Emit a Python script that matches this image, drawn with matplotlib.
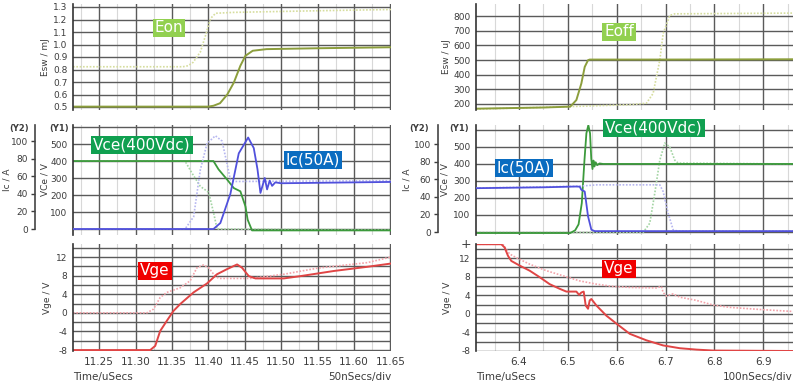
import matplotlib.pyplot as plt
from matplotlib.ticker import MultipleLocator, FormatStrFormatter

# ---------------- turn-on (left column), time in uSecs ----------------
t_eon = [11.214, 11.40, 11.407, 11.416, 11.426, 11.435, 11.444, 11.451, 11.461, 11.48, 11.55, 11.651]
eon = [0.503, 0.503, 0.51, 0.53, 0.60, 0.695, 0.83, 0.91, 0.95, 0.963, 0.97, 0.978]
t_eon_ref = [11.214, 11.365, 11.372, 11.379, 11.389, 11.396, 11.403, 11.41, 11.435, 11.55, 11.651]
eon_ref = [0.822, 0.822, 0.83, 0.857, 0.94, 1.07, 1.208, 1.25, 1.257, 1.27, 1.28]

t_vce_on = [11.214, 11.407, 11.414, 11.426, 11.435, 11.444, 11.451, 11.454, 11.46, 11.651]
vce_on = [400, 400, 351, 290, 241, 222, 133, 55, -8, -8]
t_vce_on_ref = [11.214, 11.368, 11.3775, 11.389, 11.4004, 11.4073, 11.412, 11.651]
vce_on_ref = [400, 400, 329, 251, 216, 94, 0, -5]

t_ic_on = [11.214, 11.407, 11.4165, 11.4303, 11.4418, 11.4547, 11.4624, 11.4675, 11.4716,
           11.4775, 11.4807, 11.4843, 11.4876, 11.492, 11.50, 11.651]
ic_on = [0, 0, 6.8, 40, 86, 104, 92, 68, 41, 58, 45, 55, 49, 53, 52, 53.5]
t_ic_on_ref = [11.214, 11.368, 11.3798, 11.3889, 11.3981, 11.4096, 11.4188, 11.4257, 11.4303, 11.4348, 11.651]
ic_on_ref = [0, 0, 14, 67, 97, 106, 100, 74, 56, 54, 55]

t_vge_on = [11.214, 11.3201, 11.327, 11.3338, 11.343, 11.352, 11.3614, 11.3797, 11.398, 11.4119,
            11.4257, 11.4395, 11.4463, 11.4555, 11.4647, 11.5037, 11.5267, 11.5725, 11.6186, 11.651]
vge_on = [-8, -8, -7.1, -3.9, -1.7, 0.4, 1.9, 4.4, 6.3, 8.3, 9.4, 10.4, 9.7, 7.9, 7.4, 7.4, 7.9, 9.0, 9.9, 10.6]
t_vge_on_ref = [11.214, 11.3155, 11.3246, 11.3338, 11.343, 11.3614, 11.3751, 11.3843, 11.3935, 11.4004,
                11.4073, 11.4141, 11.4578, 11.5037, 11.5496, 11.6186, 11.651]
vge_on_ref = [0, 0, 0.8, 3.3, 4.4, 5.4, 6.9, 9.7, 10.3, 9.7, 8.3, 7.4, 7.4, 8.3, 9.6, 10.8, 12]

# ---------------- turn-off (right column) ----------------
t_eoff = [6.312, 6.45, 6.505, 6.5175, 6.5277, 6.5346, 6.5414, 6.5448, 6.70, 6.963]
eoff = [168, 176, 182, 227, 340, 453, 499, 503, 503, 505]
t_eoff_ref = [6.312, 6.50, 6.6268, 6.6609, 6.6746, 6.6883, 6.6951, 6.7087, 6.719, 6.963]
eoff_ref = [165, 182, 195, 205, 272, 499, 680, 804, 815, 820]

t_ic_off = [6.312, 6.45, 6.5175, 6.5243, 6.5277, 6.5346, 6.5414, 6.5482, 6.555, 6.963]
ic_off = [49.8, 50.8, 51.7, 51.5, 48, 46, 17.7, 2.6, 1, 1]
t_ic_off_ref = [6.312, 6.52, 6.56, 6.6883, 6.6951, 6.7053, 6.7156, 6.725, 6.963]
ic_off_ref = [50, 52, 53.6, 53.6, 46, 21.5, 2.6, 1, 1]

t_vce_off = [6.312, 6.505, 6.515, 6.522, 6.5286, 6.534, 6.538, 6.542, 6.5455, 6.548, 6.5505,
             6.5525, 6.5545, 6.557, 6.56, 6.565, 6.572, 6.963]
vce_off = [-6, -6, 10, 45, 170, 420, 580, 628, 580, 430, 370, 420, 385, 410, 393, 403, 400, 400]
t_vce_off_ref = [6.312, 6.6541, 6.6678, 6.678, 6.6883, 6.6985, 6.7087, 6.719, 6.7258, 6.963]
vce_off_ref = [-3, -3, 52, 228, 422, 523, 500, 422, 405, 400]

t_vge_off = [6.312, 6.3638, 6.3706, 6.3775, 6.3843, 6.4014, 6.4219, 6.4424, 6.4628, 6.4833, 6.497,
             6.5175, 6.523, 6.5277, 6.5325, 6.5366, 6.5414, 6.5448, 6.5482, 6.5585, 6.579, 6.5995,
             6.6268, 6.6609, 6.6951, 6.7292, 6.7634, 6.7975, 6.963]
vge_off = [15, 15, 14.3, 12.5, 11.4, 10.4, 9.3, 7.9, 6.4, 5.4, 4.8, 4.8, 4.1, 4.6, 4.8, 1.8, 1.1,
           2.9, 3.2, 1.8, -0.4, -2.1, -4.3, -5.7, -6.8, -7.4, -7.7, -7.9, -8.0]
t_vge_off_ref = [6.312, 6.3672, 6.374, 6.3809, 6.3945, 6.4219, 6.456, 6.4902, 6.5243, 6.5585, 6.5926,
                 6.6268, 6.6814, 6.6917, 6.6951, 6.7019, 6.7087, 6.7156, 6.7292, 6.7634, 6.7975,
                 6.8317, 6.9, 6.963]
vge_off_ref = [15, 15, 13.9, 12.9, 12.1, 10.7, 9.3, 8.2, 7.1, 6.4, 5.9, 5.7, 5.6, 5.9, 4.6, 3.8,
               4.1, 4.3, 3.6, 2.9, 1.9, 1.4, 0.9, 0.5]

W, H = 796, 386
fig = plt.figure(figsize=(W / 100, H / 100), dpi=100)
fig.patch.set_facecolor('white')

TXT = '#3c3c3c'
DOT = (0, (1, 1))


def px(x0, y0, x1, y1):
    return [x0 / W, 1 - y1 / H, (x1 - x0) / W, (y1 - y0) / H]


def style(ax, xmaj, fmt, show_x):
    for s in ['top', 'right', 'bottom']:
        ax.spines[s].set_visible(False)
    ax.spines['left'].set_color('#333333')
    ax.spines['left'].set_linewidth(1.2)
    ax.xaxis.set_major_locator(MultipleLocator(xmaj))
    ax.xaxis.set_minor_locator(MultipleLocator(xmaj / 2))
    ax.xaxis.set_major_formatter(FormatStrFormatter(fmt))
    ax.grid(which='major', color='#5a5a5a', lw=1.0)
    ax.grid(which='minor', axis='x', color='#d8d8d8', lw=0.8)
    ax.set_axisbelow(True)
    ax.tick_params(which='both', length=0, labelsize=6.5, colors=TXT)
    ax.tick_params(axis='y', pad=4)
    ax.tick_params(axis='x', pad=4, labelsize=7.5, labelbottom=show_x)


def label(x, y, s, color):
    fig.text(x / W, 1 - y / H, s, color='white', fontsize=11, ha='center', va='center',
             bbox=dict(boxstyle='square,pad=0.12', fc=color, ec='none'))


def ftext(x, y, s, **kw):
    kw.setdefault('fontsize', 6.5)
    kw.setdefault('color', TXT)
    fig.text(x / W, 1 - y / H, s, **kw)


cols = [
    dict(x0=73, x1=391, xlim=(11.214, 11.651), xmaj=0.05, fmt='%.2f',
         e_ylim=(0.476, 1.324), e_ticks=[0.5, 0.6, 0.7, 0.8, 0.9, 1.0, 1.1, 1.2, 1.3], e_fmt='%.1f',
         v_ylim=(-35, 612), i_ylim=(-6.8, 118.2), g_ylim=(-8.2, 14.8),
         te=t_eon, e=eon, te_r=t_eon_ref, e_r=eon_ref,
         tv=t_vce_on, v=vce_on, tv_r=t_vce_on_ref, v_r=vce_on_ref,
         ti=t_ic_on, i=ic_on, ti_r=t_ic_on_ref, i_r=ic_on_ref,
         tg=t_vge_on, g=vge_on, tg_r=t_vge_on_ref, g_r=vge_on_ref,
         elabel='Esw / mJ', div='50nSecs/div', shift=0),
    dict(x0=476, x1=793, xlim=(6.312, 6.961), xmaj=0.1, fmt='%.1f',
         e_ylim=(159, 882), e_ticks=[200, 300, 400, 500, 600, 700, 800], e_fmt='%d',
         v_ylim=(-17.6, 629), i_ylim=(-3.4, 121.6), g_ylim=(-8.0, 15.05),
         te=t_eoff, e=eoff, te_r=t_eoff_ref, e_r=eoff_ref,
         tv=t_vce_off, v=vce_off, tv_r=t_vce_off_ref, v_r=vce_off_ref,
         ti=t_ic_off, i=ic_off, ti_r=t_ic_off_ref, i_r=ic_off_ref,
         tg=t_vge_off, g=vge_off, tg_r=t_vge_off_ref, g_r=vge_off_ref,
         elabel='Esw / uJ', div='100nSecs/div', shift=-3),
]

for c in cols:
    x0, x1 = c['x0'], c['x1']

    # energy panel
    ax = fig.add_axes(px(x0, 4, x1, 110))
    style(ax, c['xmaj'], c['fmt'], False)
    ax.plot(c['te_r'], c['e_r'], color='#d6dd9e', lw=1.2, ls=DOT)
    ax.plot(c['te'], c['e'], color='#8c9e3c', lw=1.4)
    ax.set_xlim(*c['xlim'])
    ax.set_ylim(*c['e_ylim'])
    ax.set_yticks(c['e_ticks'])
    ax.yaxis.set_major_formatter(FormatStrFormatter(c['e_fmt']))

    # Vce / Ic panel
    ax = fig.add_axes(px(x0, 125, x1, 235))
    style(ax, c['xmaj'], c['fmt'], False)
    ax.plot(c['tv_r'], c['v_r'], color='#a3d4a3', lw=1.2, ls=DOT)
    ax.plot(c['tv'], c['v'], color='#3c9a3c', lw=1.3)
    ax.set_xlim(*c['xlim'])
    ax.set_ylim(*c['v_ylim'])
    ax.set_yticks(range(0, 700, 100), ['', '100', '200', '300', '400', '500', ''])
    ax2 = ax.twinx()
    ax2.set_ylim(*c['i_ylim'])
    ax2.plot(c['ti_r'], c['i_r'], color='#b6b6f0', lw=1.2, ls=DOT)
    ax2.plot(c['ti'], c['i'], color='#5050dc', lw=1.3)
    for s in ['top', 'right', 'bottom']:
        ax2.spines[s].set_visible(False)
    ax2.spines['left'].set_visible(True)
    ax2.spines['left'].set_position(('outward', 27.4))
    ax2.spines['left'].set_color('#444444')
    ax2.spines['left'].set_linewidth(1.2)
    ax2.spines['left'].set_bounds(0, c['i_ylim'][1])
    ax2.yaxis.set_ticks_position('left')
    ax2.set_yticks(range(0, 120, 20))
    ax2.tick_params(axis='y', length=3, width=1, colors=TXT, labelsize=6.5, pad=2)

    # Vge panel
    ax = fig.add_axes(px(x0, 244, x1, 351))
    style(ax, c['xmaj'], c['fmt'], True)
    ax.plot(c['tg_r'], c['g_r'], color='#f3a3aa', lw=1.2, ls=DOT)
    ax.plot(c['tg'], c['g'], color='#e04545', lw=1.4)
    ax.set_xlim(*c['xlim'])
    ax.set_ylim(*c['g_ylim'])
    ax.set_yticks(range(-8, 15, 2), [str(v) if v % 4 == 0 else '' for v in range(-8, 15, 2)])

    # axis titles
    off = x0 - 73 + c['shift']
    ftext(46 + off, 57, c['elabel'], rotation=90, ha='center', va='center')
    ftext(7 + off, 180, 'Ic / A', rotation=90, ha='center', va='center')
    ftext(45 + off, 180, 'VCe / V', rotation=90, ha='center', va='center')
    ftext(48 + off, 298, 'Vge / V', rotation=90, ha='center', va='center')
    ftext(19 + off, 128, '(Y2)', ha='center', va='center', fontweight='bold', fontsize=6)
    ftext(59 + off, 128, '(Y1)', ha='center', va='center', fontweight='bold', fontsize=6)
    ftext(x0, 377, 'Time/uSecs', ha='left', va='center', fontsize=7.5)
    ftext(x1, 377, c['div'], ha='right', va='center', fontsize=7.5)

ftext(466, 245, '+', ha='center', va='center', fontsize=9)

# trace labels
label(169, 28, 'Eon', '#92d050')
label(142, 145, 'Vce(400Vdc)', '#10a050')
label(313, 160, 'Ic(50A)', '#0a6cc0')
label(155, 271, 'Vge', '#f00000')
label(619, 32, 'Eoff', '#92d050')
label(654, 128, 'Vce(400Vdc)', '#10a050')
label(524, 168, 'Ic(50A)', '#0a6cc0')
label(619, 269, 'Vge', '#f00000')

fig.savefig('out.png', dpi=100, facecolor='white')
